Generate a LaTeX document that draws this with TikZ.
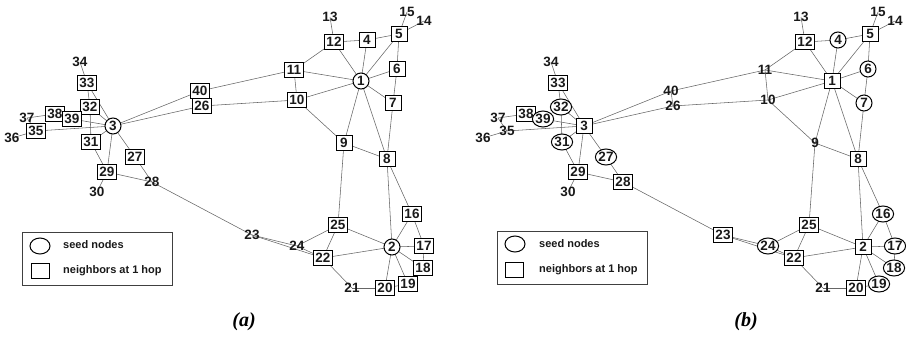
\documentclass[tikz,border=0pt]{standalone}
\usepackage{fontspec}
\setmainfont{Liberation Sans}
\newfontfamily\capfont{Liberation Serif}
\usetikzlibrary{shapes.geometric,backgrounds}
\tikzset{
  edge/.style={draw=black!60, line width=0.55pt},
  lbl/.style={font=\bfseries\fontsize{13.5}{13.5}\selectfont, text=black!90, inner sep=0.5pt},
  nbr/.style={lbl, rectangle, draw=black, line width=1pt, fill=white,
    inner xsep=2pt, inner ysep=2pt, text height=9.6pt, text depth=0pt,
    minimum width=16pt, minimum height=15pt},
  seed/.style={lbl, ellipse, draw=black, line width=1pt, fill=white,
    inner sep=0pt, text height=9.6pt, text depth=0pt,
    minimum width=16pt, minimum height=16pt},
  plain/.style={lbl},
  legbox/.style={draw=black!75, line width=0.8pt, minimum width=150pt, minimum height=53pt, inner sep=0pt},
  legtxt/.style={font=\bfseries\fontsize{11}{11}\selectfont, text=black!90, anchor=west, inner sep=0pt},
  capt/.style={font=\capfont\bfseries\itshape\fontsize{20}{20}\selectfont}
}
\newcommand\graphcoords[1]{%
  \foreach \n/\x/\y in {1/361/81, 2/392/247, 3/113/126, 4/367/40, 5/399/34,
    6/397/69, 7/393/103, 8/387/159, 9/344/143, 10/297/100, 11/294/70,
    12/334/42, 13/330/17, 14/424/21, 15/407/12, 16/412/214, 17/424/246,
    18/423/268, 19/408/284, 20/385/288, 21/352/288, 22/323/258, 23/252/235,
    24/297/246, 25/338/225, 26/202/106, 27/135/157, 28/152/182, 29/107/172,
    30/97/192, 31/91/142, 32/90/107, 33/87/83, 34/80/62, 35/36/131,
    36/12/138, 37/27/118, 38/55/114, 39/72/119, 40/200/91}
    {\coordinate (#1c\n) at (\x,\y);}%
}
\newcommand\graphedges[1]{%
  \begin{pgfonlayer}{background}
  \foreach \a/\b in {34/33, 33/32, 32/31, 33/3, 32/3, 37/38, 38/39, 39/3,
    37/35, 36/35, 35/3, 3/31, 31/29, 3/29, 29/30, 29/28, 3/27, 27/28, 28/23,
    23/24, 23/22, 24/25, 24/22, 25/22, 25/2, 25/9, 22/2, 22/21, 21/20,
    20/19, 20/2, 2/19, 2/18, 2/17, 2/16, 16/17, 17/18, 16/8, 8/2, 1/8,
    7/8, 9/8, 9/10, 9/1, 1/10, 1/11, 1/12, 1/4, 1/5, 1/6, 1/7, 10/11,
    11/12, 12/4, 4/5, 12/13, 5/15, 5/14, 5/6, 6/7, 11/40, 40/3, 10/26,
    26/3, 40/26}
    {\draw[edge] (#1\a.center) -- (#1\b.center);}
  \end{pgfonlayer}%
}
\begin{document}
\begin{tikzpicture}[x=1pt, y=-1pt]
\useasboundingbox (0,0) rectangle (906,340);
% ---------- panel (a)
\begin{scope}
  \graphcoords{a}
  \foreach \n/\s in {1/seed,2/seed,3/seed,4/nbr,5/nbr,6/nbr,7/nbr,8/nbr,9/nbr,
    10/nbr,11/nbr,12/nbr,13/plain,14/plain,15/plain,16/nbr,17/nbr,18/nbr,
    19/nbr,20/nbr,21/plain,22/nbr,23/plain,24/plain,25/nbr,26/nbr,27/nbr,
    28/plain,29/nbr,30/plain,31/nbr,32/nbr,33/nbr,34/plain,35/nbr,36/plain,
    37/plain,38/nbr,39/nbr,40/nbr}
    {\node[\s] (a\n) at (ac\n) {\n};}
  \graphedges{a}
\end{scope}
% ---------- panel (b)
\begin{scope}[shift={(471,0)}]
  \graphcoords{b}
  \foreach \n/\s in {1/nbr,2/nbr,3/nbr,4/seed,5/nbr,6/seed,7/seed,8/nbr,9/plain,
    10/plain,11/plain,12/nbr,13/plain,14/plain,15/plain,16/seed,17/seed,18/seed,
    19/seed,20/nbr,21/plain,22/nbr,23/nbr,24/seed,25/nbr,26/plain,27/seed,
    28/nbr,29/nbr,30/plain,31/seed,32/seed,33/nbr,34/plain,35/plain,36/plain,
    37/plain,38/nbr,39/seed,40/plain}
    {\node[\s] (b\n) at (bc\n) {\n};}
  \graphedges{b}
\end{scope}
% ---------- legends
\node[legbox] (legA) at (97,258.5) {};
\node[seed, minimum width=20pt, minimum height=16pt] (legAc) at (40,246) {};
\node[nbr, minimum width=18pt, minimum height=15pt] (legAs) at (40,271) {};
\node[legtxt] (legAt1) at (63,245) {seed nodes};
\node[legtxt] (legAt2) at (63,271) {neighbors at 1 hop};
\node[legbox] (legB) at (572,257.5) {};
\node[seed, minimum width=20pt, minimum height=16pt] (legBc) at (515,244) {};
\node[nbr, minimum width=18pt, minimum height=15pt] (legBs) at (514,270) {};
\node[legtxt] (legBt1) at (539,244) {seed nodes};
\node[legtxt] (legBt2) at (539,270) {neighbors at 1 hop};
% ---------- captions
\node[capt] (capA) at (244,322) {(a)};
\node[capt] (capB) at (746,322) {(b)};
\end{tikzpicture}
\end{document}
